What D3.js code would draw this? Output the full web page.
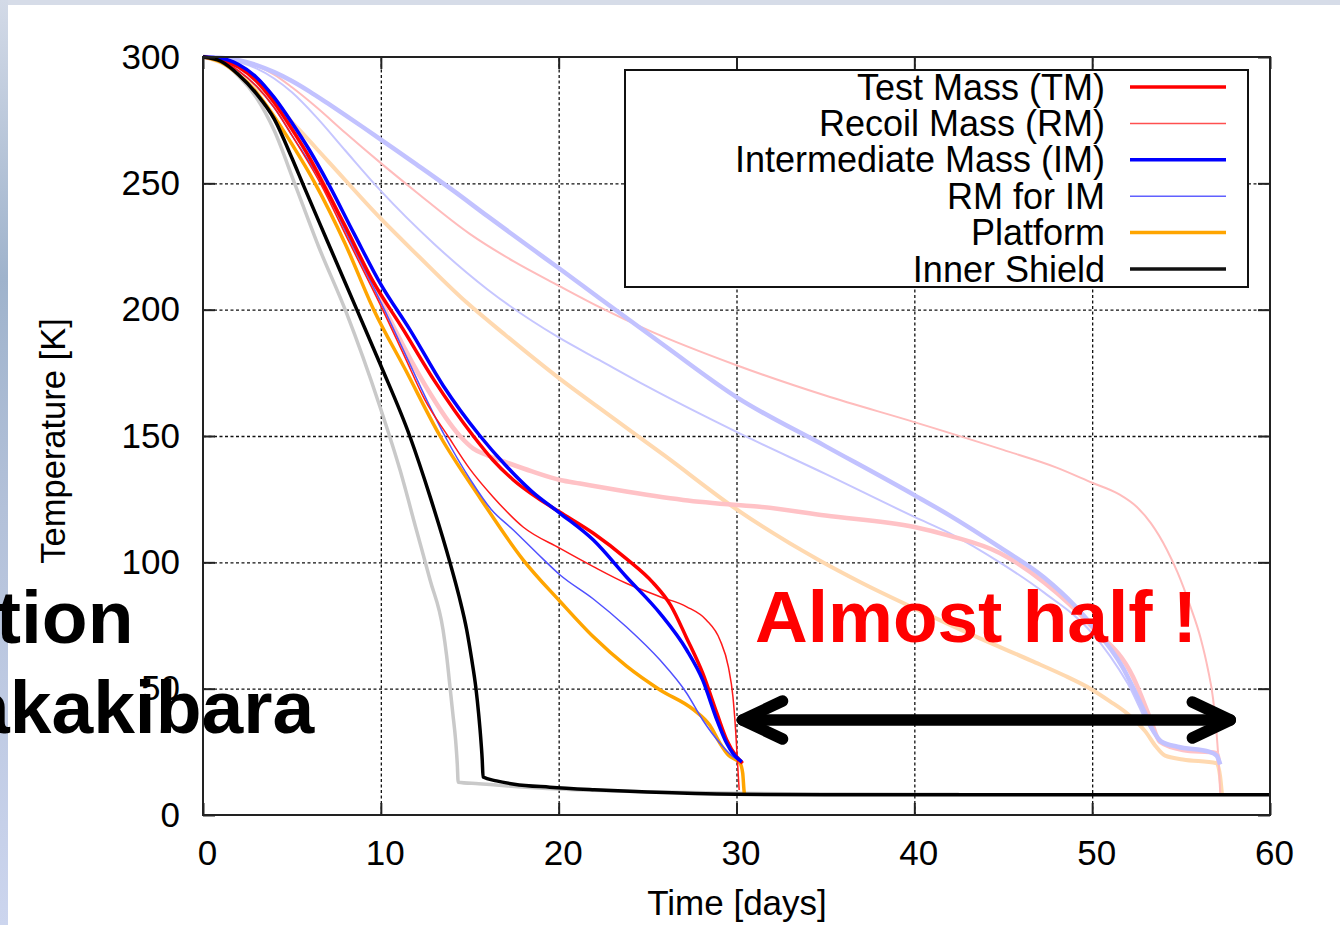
<!DOCTYPE html>
<html>
<head>
<meta charset="utf-8">
<script src="https://cdn.jsdelivr.net/npm/d3@7"></script>
<style>
  body { margin: 0; background: #fff; }
  svg { display: block; }
</style>
</head>
<body>
<svg id="chart" width="1340" height="925"></svg>
<script>
// Cooldown curves, temperature [K] vs time [days]
const xTicks = [0, 10, 20, 30, 40, 50, 60];
const yTicks = [0, 50, 100, 150, 200, 250, 300];
const seriesNames = ["Test Mass (TM)", "Recoil Mass (RM)", "Intermediate Mass (IM)", "RM for IM", "Platform", "Inner Shield"];

// current design (bright curves)
const testMass = [[0,300],[1,299],[2,296],[3,290.5],[4,282],[5,271.5],[6,260],[6.75,250],[8,233],[9.5,212],[11.27,192],[13,172],[15.2,150],[16.3,140.5],[17.45,132.6],[18.8,125.5],[20.08,119.8],[21.95,111.5],[23.8,101.5],[25.3,92],[26.3,83],[27.2,70],[28.1,56.1],[28.9,40.2],[29.45,29.7],[30,23.1],[30.35,20.5]];
const recoilMass = [[0,300],[1,298.5],[2,294.5],[3,288.5],[4,280],[5,269],[6.6,250],[8.2,227],[10.1,200],[11.3,182],[12.5,164],[13.8,149.7],[15,137],[16.3,126],[18,114],[20.08,105.5],[21.95,98.3],[23.8,91.7],[25.7,86.4],[27.2,82.4],[28.3,77.2],[29.07,69.3],[29.54,58.7],[29.8,46.8],[29.95,33.6],[30.06,20.5],[30.15,9.9]];
const interMass = [[0,300],[1,299.5],[2,297],[3,292],[4,284],[5,274],[6,263],[7.04,250],[8.5,230],[10,210],[11.64,192],[13.5,170],[15.58,150],[17,138.5],[18.5,128],[20.08,119.4],[21.95,108.8],[23.8,94.3],[25.7,79.8],[27.2,65.3],[28.1,53.4],[28.9,37.6],[29.45,28.4],[29.8,24.4],[30.3,21]];
const rmForIm = [[0,300],[1,298.5],[2,294.5],[3,288.5],[4,280],[5,269],[6.7,250],[8.3,227],[10.2,200],[11.4,182],[12.6,164],[13.6,150],[15.1,132],[16.2,121],[17.45,112.8],[18.8,103.5],[20.08,95],[21.95,85.5],[23.8,74.5],[25.7,61.3],[27.2,48.2],[28.1,37.6],[29.07,28.4],[29.8,23.1],[30.3,21]];
const platform = [[0,300],[1,298],[2,293],[3,286],[4,276.5],[5,265.5],[6.3,250],[8,226],[9.6,200],[11.4,176],[13.33,150],[15.58,125.5],[18,101],[20.08,84.5],[21.95,70.5],[23.8,59],[25.7,49.5],[27.6,41.6],[28.5,35.5],[29.07,28.4],[29.54,23.7],[30.2,20.5],[30.35,16.5],[30.42,9.9],[30.45,8]];
const innerShield = [[0,300],[1,298.3],[2,293],[3,285.5],[4,275.5],[5,260],[5.6,250],[7,227],[8.65,200],[9.95,178.7],[11.64,149.7],[12.77,126],[13.9,99.6],[14.4,86.5],[14.83,73.2],[15.1,62],[15.35,50],[15.5,40],[15.6,32],[15.7,22],[15.75,15],[16.5,13.5],[17.5,12.2],[19.5,11],[22,10],[25,9.1],[30,8.2],[35,8],[60,8]];

// previous design (faded curves)
const testMassOld = [[0,300],[1,299],[2,296],[3,290.5],[4,282],[5,271.5],[6,260.5],[6.7,251],[8.2,229],[9.5,211],[10.8,192],[12.5,170],[14.45,150],[15.2,145],[16,142.3],[17.08,139.5],[18.5,136],[20.08,132.6],[21.2,131.2],[23.3,128.6],[27,124.7],[30,122.7],[31.3,122],[35,118.5],[40,114],[42,110.5],[44.8,103.7],[47.3,92],[50,74.4],[52.3,54.6],[53.3,37.6],[53.8,29],[55.1,25.7],[57,24.5],[57.15,20]];
const recoilMassOld = [[0,300],[1,299.6],[2,298.5],[3,296.5],[4,293],[5,288],[6.4,280],[8,270],[10,258],[12,246.5],[15,230],[17.5,219],[20,209.5],[22.3,201],[25,192],[30,178],[35,166],[40,155.5],[45,144.5],[48,137.5],[50,131.5],[51.5,127],[52.5,122],[53.3,115.5],[54.2,105],[54.8,96],[55.5,83],[56.1,70],[56.5,58],[56.8,46],[57,32],[57.12,20],[57.2,8.7]];
const interMassOld = [[0,300],[1,299.7],[2,298.7],[3,296.8],[4,294],[5,290.5],[6,286.3],[7,281.7],[8,277],[9,272.2],[10,267.3],[12,257.5],[14,247.5],[16,237],[18.6,223.6],[20,216.5],[22.3,204.5],[26,185.5],[30,165.4],[35,146],[40,126.6],[42,118.5],[44.8,106],[47.3,94],[49,83],[50,75],[51.7,58.6],[52.9,41.5],[53.5,32.5],[53.9,29],[54.8,27],[56.6,25],[57,23.5],[57.2,20]];
const rmForImOld = [[0,300],[1,299.5],[2,298],[3,295.5],[4,291.5],[5,286],[6.4,276],[8,263],[10,247],[13,226],[16,208],[20,189],[22.3,180],[25,169.5],[30,151.6],[35,135],[40,118],[42,111.5],[44.8,100],[47.3,88],[50,72],[51,63],[52,52],[53.3,34],[53.9,29],[55,26.5],[57,24],[57.2,21]];
const platformOld = [[0,300],[1,297.8],[2,293.5],[3,288],[4,281.5],[5.3,272],[7,259],[10,236],[12,222],[14.8,203],[17,190],[20,173],[22.3,161],[26,142],[30,121],[34.6,101],[37,92],[40.4,80.5],[43.5,70.5],[46.6,61],[48.5,55],[49.9,50],[51,45],[52,40],[53,33],[53.6,27],[54.1,23.5],[55.1,22],[57,20.5],[57.2,15],[57.3,8]];
const innerShieldOld = [[0,300],[1,298],[2,292.5],[3,284],[4,271],[5.15,250],[6.5,225],[8.05,199],[9.95,161.6],[11.08,136.5],[12,112.8],[12.77,93],[13.5,73.2],[13.7,63],[13.9,50],[14.05,40],[14.2,30],[14.3,20],[14.35,13],[15.5,12.4],[17,11.6],[20,10.3],[25,9.2],[30,8.6],[36,8.3],[42.5,8.2]];

const font = "'Liberation Sans', Arial, sans-serif";
const svg = d3.select("#chart");

const x = d3.scaleLinear().domain([0, 60]).range([203, 1270]);
const y = d3.scaleLinear().domain([0, 300]).range([815, 57]);
const plotH = y(0) - y(300);

// slide background edges
const defs = svg.append("defs");
const grad = defs.append("linearGradient").attr("id", "edge").attr("x1", 0).attr("x2", 0).attr("y1", 0).attr("y2", 1);
grad.append("stop").attr("offset", "0%").attr("stop-color", "#d3dae7");
grad.append("stop").attr("offset", "30%").attr("stop-color", "#9fb3cc");
grad.append("stop").attr("offset", "55%").attr("stop-color", "#b3c1d9");
grad.append("stop").attr("offset", "100%").attr("stop-color", "#ccd5ee");
defs.append("clipPath").attr("id", "plot-clip")
  .append("rect").attr("x", x(0)).attr("y", y(300) - 4).attr("width", x(60) - x(0)).attr("height", plotH + 4);

svg.append("rect").attr("width", 1340).attr("height", 925).attr("fill", "#fff");
svg.append("rect").attr("width", 1340).attr("height", 5).attr("fill", "#d6dce8");
svg.append("rect").attr("width", 8).attr("height", 925).attr("fill", "url(#edge)");

// dotted grid
const grid = svg.append("g");
grid.append("g")
  .attr("transform", `translate(0,${y(0)})`)
  .call(d3.axisBottom(x).tickValues(xTicks.slice(1, -1)).tickSize(-plotH).tickFormat(""));
grid.append("g")
  .attr("transform", `translate(${x(0)},0)`)
  .call(d3.axisLeft(y).tickValues(yTicks.slice(1, -1)).tickSize(-(x(60) - x(0))).tickFormat(""));
grid.selectAll(".domain").remove();
grid.selectAll("line").attr("stroke", "#111").attr("stroke-width", 1.3).attr("stroke-dasharray", "3,2.5");

// curves
const line = d3.line().x((d) => x(d[0])).y((d) => y(d[1])).curve(d3.curveMonotoneX);

const fadedCurves = [
  { data: innerShieldOld, color: "#c9c9c9", width: 3.5 },
  { data: platformOld, color: "#ffd9b0", width: 4 },
  { data: rmForImOld, color: "#c6c6ff", width: 2 },
  { data: recoilMassOld, color: "#ffbcbc", width: 2 },
  { data: testMassOld, color: "#ffc2c6", width: 4.5 },
  { data: interMassOld, color: "#c2c2ff", width: 4.5 },
];
const brightCurves = [
  { data: platform, color: "#ffa500", width: 3.5 },
  { data: rmForIm, color: "#5050ff", width: 1.5 },
  { data: recoilMass, color: "#ff1a1a", width: 1.5 },
  { data: testMass, color: "#ff0000", width: 3.5 },
  { data: interMass, color: "#0000ff", width: 3.5 },
  { data: innerShield, color: "#000000", width: 3.5 },
];

const curves = svg.append("g").attr("clip-path", "url(#plot-clip)");
curves.selectAll("path.curve")
  .data(fadedCurves.concat(brightCurves))
  .join("path")
  .attr("class", "curve")
  .attr("d", (d) => line(d.data))
  .attr("fill", "none")
  .attr("stroke", (d) => d.color)
  .attr("stroke-width", (d) => d.width)
  .attr("stroke-linejoin", "round");

// legend
const legendStyles = [
  { color: "#ff0000", width: 3.5 },
  { color: "#ff5050", width: 1.5 },
  { color: "#0000ff", width: 3.5 },
  { color: "#6060ff", width: 1.5 },
  { color: "#ffa500", width: 3.5 },
  { color: "#111111", width: 3.5 },
];
const legend = svg.append("g");
legend.append("rect")
  .attr("x", 625).attr("y", 70).attr("width", 623).attr("height", 217)
  .attr("fill", "#fff").attr("stroke", "#111").attr("stroke-width", 2);
const rows = legend.selectAll("g.row")
  .data(seriesNames)
  .join("g")
  .attr("class", "row")
  .attr("transform", (d, i) => `translate(0,${87 + i * 36.4})`);
rows.append("text")
  .attr("x", 1105).attr("y", 12.5)
  .attr("text-anchor", "end")
  .attr("font-family", font).attr("font-size", 36)
  .attr("fill", "#000")
  .text((d) => d);
rows.append("line")
  .attr("x1", 1130).attr("x2", 1226)
  .attr("stroke", (d, i) => legendStyles[i].color)
  .attr("stroke-width", (d, i) => legendStyles[i].width);

// frame and inner ticks
svg.append("rect")
  .attr("x", x(0)).attr("y", y(300)).attr("width", x(60) - x(0)).attr("height", plotH)
  .attr("fill", "none").attr("stroke", "#222").attr("stroke-width", 2);
const ticks = svg.append("g");
ticks.append("g").attr("transform", `translate(0,${y(0)})`).call(d3.axisBottom(x).tickValues(xTicks).tickSize(-12).tickFormat(""));
ticks.append("g").attr("transform", `translate(0,${y(300)})`).call(d3.axisTop(x).tickValues(xTicks).tickSize(-12).tickFormat(""));
ticks.append("g").attr("transform", `translate(${x(0)},0)`).call(d3.axisLeft(y).tickValues(yTicks).tickSize(-12).tickFormat(""));
ticks.append("g").attr("transform", `translate(${x(60)},0)`).call(d3.axisRight(y).tickValues(yTicks).tickSize(-12).tickFormat(""));
ticks.selectAll(".domain").remove();
ticks.selectAll("line").attr("stroke", "#222").attr("stroke-width", 2);

// tick labels
const xLab = svg.append("g")
  .attr("transform", `translate(0,${y(0)})`)
  .call(d3.axisBottom(x).tickValues(xTicks).tickSize(0).tickPadding(25).tickFormat(d3.format("d")));
const yLab = svg.append("g")
  .attr("transform", `translate(${x(0)},0)`)
  .call(d3.axisLeft(y).tickValues(yTicks).tickSize(0).tickPadding(23).tickFormat(d3.format("d")));
[xLab, yLab].forEach((g) => {
  g.select(".domain").remove();
  g.selectAll("text").attr("font-family", font).attr("font-size", 35).attr("fill", "#000");
});
xLab.selectAll("text").attr("dx", 4);

// axis titles
svg.append("text")
  .attr("x", 737).attr("y", 915)
  .attr("text-anchor", "middle")
  .attr("font-family", font).attr("font-size", 35)
  .text("Time [days]");
svg.append("text")
  .attr("transform", "translate(65,441) rotate(-90)")
  .attr("text-anchor", "middle")
  .attr("font-family", font).attr("font-size", 34.5)
  .text("Temperature [K]");

// slide overlay: double arrow and captions
const arrowY = y(37.6);
const tipL = x(30) + 6, tipR = x(58.05) - 5;
const arrow = svg.append("g")
  .attr("fill", "none").attr("stroke", "#000").attr("stroke-width", 11.5)
  .attr("stroke-linecap", "round").attr("stroke-linejoin", "round");
arrow.append("line").attr("x1", tipL).attr("x2", tipR).attr("y1", arrowY).attr("y2", arrowY);
arrow.append("path").attr("d", `M${tipL + 40},${arrowY - 19} L${tipL},${arrowY} L${tipL + 40},${arrowY + 19}`);
arrow.append("path").attr("d", `M${tipR - 38},${arrowY - 18} L${tipR},${arrowY} L${tipR - 38},${arrowY + 18}`);

svg.append("text")
  .attr("x", 755).attr("y", 642)
  .attr("font-family", font).attr("font-weight", "bold").attr("font-size", 73)
  .attr("fill", "#ff0000")
  .text("Almost half !");
svg.append("text")
  .attr("x", -4).attr("y", 643)
  .attr("font-family", font).attr("font-weight", "bold").attr("font-size", 75)
  .attr("fill", "#000")
  .text("tion");
svg.append("text")
  .attr("x", -32).attr("y", 733)
  .attr("font-family", font).attr("font-weight", "bold").attr("font-size", 75)
  .attr("fill", "#000")
  .text("akakibara");
</script>
</body>
</html>
